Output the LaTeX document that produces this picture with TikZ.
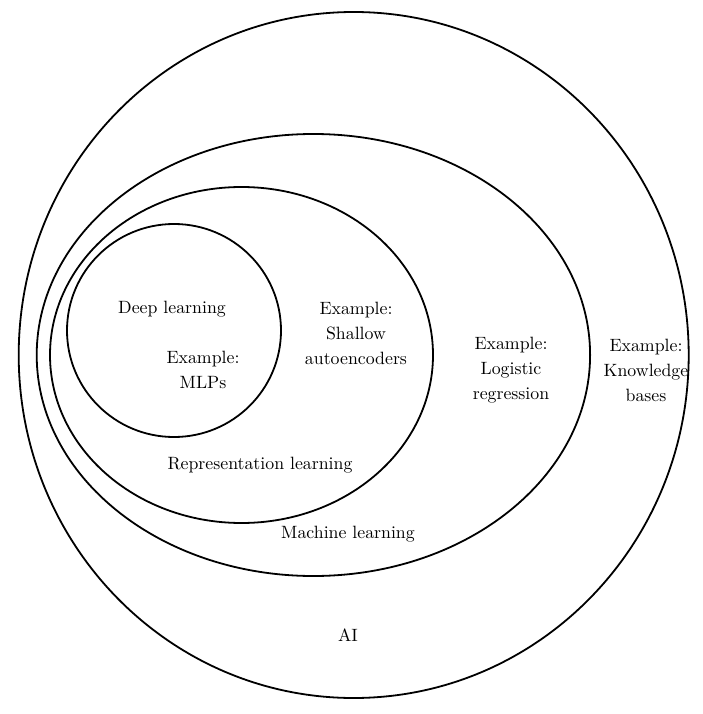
\documentclass[tikz,border=0pt]{standalone}
\usepackage{fontspec}
\setmainfont{lmroman10-regular}[Extension=.otf]
\begin{document}
\begin{tikzpicture}[x=1pt,y=-1pt,
  set/.style={draw=black,line width=1.8pt},
  lbl/.style={align=center,inner sep=0pt,font=\fontsize{17.8}{25}\selectfont}]
\useasboundingbox (0,0) rectangle (703,714);
\draw[set] (353.7,355) ellipse [x radius=335, y radius=343];
\draw[set] (313.4,355) ellipse [x radius=276.7, y radius=221];
\draw[set] (241.5,355) ellipse [x radius=191.5, y radius=168];
\draw[set] (174,330.5) ellipse [x radius=107, y radius=106.5];
\node[lbl] (dl) at (172,309.5) {Deep learning};
\node[lbl] (mlp) at (203,370) {Example:\\MLPs};
\node[lbl] (sa) at (356,333.5) {Example:\\Shallow\\autoencoders};
\node[lbl] (rl) at (260,465.5) {Representation learning};
\node[lbl] (ml) at (348,534.5) {Machine learning};
\node[lbl] (lr) at (511,370) {Example:\\Logistic\\regression};
\node[lbl] (kb) at (646,370) {Example:\\Knowledge\\bases};
\node[lbl] (ai) at (348,635) {AI};
\end{tikzpicture}
\end{document}
